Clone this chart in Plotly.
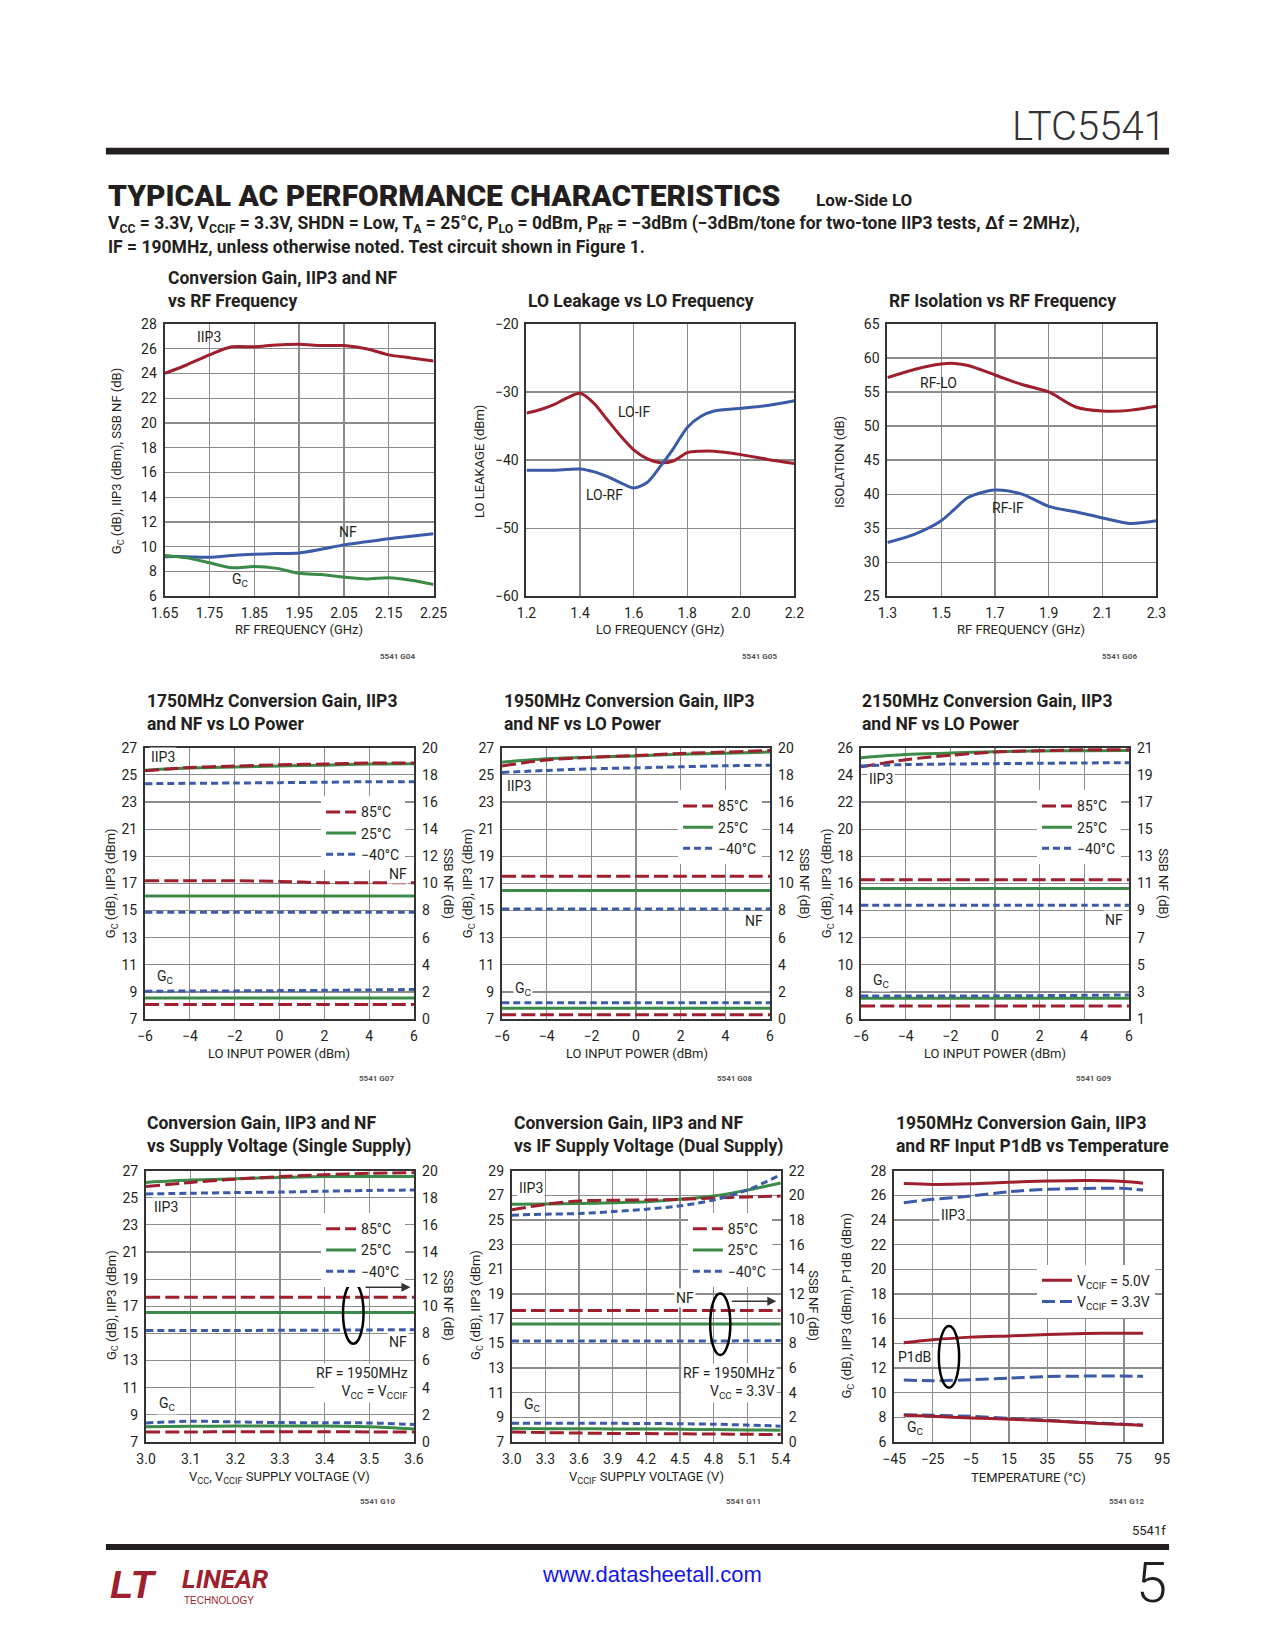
import plotly.graph_objects as go

W, H = 1275, 1650
RED = "#9e1f2d"
BLUE = "#3b5aa8"
GREEN = "#3b8a47"
GRID = "#8c8c8c"
FRAME = "#333333"
TXT = "#231f20"
NARROW = "Roboto, Liberation Sans Narrow, Arial Narrow, sans-serif"

# ---------------- data ----------------
# Plot 1: Conversion gain, IIP3, NF vs RF frequency
p1_freq = [1.65, 1.70, 1.75, 1.80, 1.85, 1.90, 1.95, 2.00, 2.05, 2.10, 2.15, 2.20, 2.25]
p1_iip3 = [24.0, 24.7, 25.5, 26.15, 26.15, 26.3, 26.35, 26.25, 26.25, 26.0, 25.5, 25.25, 25.0]
p1_nf = [9.2, 9.2, 9.15, 9.3, 9.4, 9.45, 9.5, 9.8, 10.15, 10.4, 10.65, 10.85, 11.05]
p1_gc = [9.3, 9.1, 8.7, 8.3, 8.4, 8.25, 7.85, 7.75, 7.55, 7.4, 7.5, 7.3, 6.95]
p1_xticks = [1.65, 1.75, 1.85, 1.95, 2.05, 2.15, 2.25]
p1_yticks = [6, 8, 10, 12, 14, 16, 18, 20, 22, 24, 26, 28]

# Plot 2: LO leakage vs LO frequency
p2_freq = [1.2, 1.25, 1.3, 1.35, 1.4, 1.45, 1.5, 1.55, 1.6, 1.65, 1.7, 1.75, 1.8, 1.85, 1.9, 2.0, 2.1, 2.2]
p2_lo_if = [-33.1, -32.6, -31.9, -30.9, -30.2, -31.6, -34.0, -36.4, -38.5, -39.8, -40.4, -40.1, -38.9, -38.7, -38.7, -39.2, -39.9, -40.5]
p2_lo_rf = [-41.5, -41.5, -41.5, -41.4, -41.3, -41.7, -42.4, -43.3, -44.1, -43.3, -40.9, -38.2, -35.2, -33.6, -32.8, -32.4, -32.0, -31.3]
p2_xticks = [1.2, 1.4, 1.6, 1.8, 2.0, 2.2]
p2_yticks = [-60, -50, -40, -30, -20]

# Plot 3: RF isolation vs RF frequency
p3_freq = [1.3, 1.4, 1.5, 1.55, 1.6, 1.7, 1.8, 1.9, 2.0, 2.1, 2.2, 2.3]
p3_rf_lo = [57.1, 58.3, 59.1, 59.2, 58.9, 57.5, 56.1, 55.0, 52.8, 52.2, 52.3, 52.9]
p3_rf_if = [32.9, 34.1, 36.1, 37.8, 39.5, 40.6, 40.0, 38.2, 37.4, 36.5, 35.7, 36.1]
p3_xticks = [1.3, 1.5, 1.7, 1.9, 2.1, 2.3]
p3_yticks = [25, 30, 35, 40, 45, 50, 55, 60, 65]

# Plots 4-6: vs LO power
lo_power = [-6, -4, -2, 0, 2, 4, 6]
p4_iip3_85 = [25.3, 25.55, 25.65, 25.75, 25.8, 25.88, 25.88]
p4_iip3_25 = [25.35, 25.5, 25.58, 25.65, 25.72, 25.8, 25.82]
p4_iip3_m40 = [24.35, 24.38, 24.4, 24.43, 24.46, 24.5, 24.5]
p4_nf_85 = [10.2, 10.2, 10.2, 10.15, 10.05, 10.05, 10.05]
p4_nf_25 = [9.07, 9.07, 9.07, 9.07, 9.07, 9.07, 9.07]
p4_nf_m40 = [7.88, 7.88, 7.88, 7.88, 7.88, 7.88, 7.88]
p4_gc_85 = [8.07, 8.08, 8.08, 8.08, 8.08, 8.08, 8.08]
p4_gc_25 = [8.55, 8.55, 8.55, 8.55, 8.55, 8.55, 8.55]
p4_gc_m40 = [9.05, 9.07, 9.08, 9.1, 9.12, 9.15, 9.18]

p5_iip3_85 = [25.66, 26.1, 26.3, 26.43, 26.58, 26.68, 26.8]
p5_iip3_25 = [25.94, 26.19, 26.3, 26.4, 26.52, 26.6, 26.68]
p5_iip3_m40 = [25.18, 25.33, 25.45, 25.52, 25.6, 25.67, 25.72]
p5_nf_85 = [10.53, 10.53, 10.53, 10.53, 10.53, 10.53, 10.53]
p5_nf_25 = [9.47, 9.47, 9.47, 9.47, 9.47, 9.47, 9.47]
p5_nf_m40 = [8.12, 8.12, 8.12, 8.12, 8.12, 8.12, 8.12]
p5_gc_85 = [7.32, 7.32, 7.32, 7.32, 7.32, 7.32, 7.32]
p5_gc_25 = [7.8, 7.8, 7.8, 7.8, 7.8, 7.8, 7.8]
p5_gc_m40 = [8.2, 8.2, 8.2, 8.2, 8.2, 8.2, 8.2]

p6_iip3_85 = [24.59, 25.12, 25.44, 25.68, 25.78, 25.85, 25.85]
p6_iip3_25 = [25.27, 25.51, 25.61, 25.71, 25.76, 25.78, 25.8]
p6_iip3_m40 = [24.66, 24.76, 24.8, 24.83, 24.86, 24.88, 24.9]
p6_nf_85 = [11.28, 11.28, 11.28, 11.28, 11.28, 11.28, 11.28]
p6_nf_25 = [10.62, 10.62, 10.62, 10.62, 10.62, 10.62, 10.62]
p6_nf_m40 = [9.4, 9.4, 9.4, 9.4, 9.4, 9.4, 9.4]
p6_gc_85 = [6.97, 6.97, 6.97, 6.97, 6.97, 6.97, 6.97]
p6_gc_25 = [7.53, 7.53, 7.53, 7.53, 7.53, 7.53, 7.53]
p6_gc_m40 = [7.7, 7.7, 7.7, 7.71, 7.73, 7.75, 7.78]

lo_xticks = [-6, -4, -2, 0, 2, 4, 6]
p4_yticks = [7, 9, 11, 13, 15, 17, 19, 21, 23, 25, 27]
p4_y2ticks = [0, 2, 4, 6, 8, 10, 12, 14, 16, 18, 20]
p6_yticks = [6, 8, 10, 12, 14, 16, 18, 20, 22, 24, 26]
p6_y2ticks = [1, 3, 5, 7, 9, 11, 13, 15, 17, 19, 21]

# Plot 7: vs supply voltage (single supply)
p7_vcc = [3.0, 3.1, 3.2, 3.3, 3.4, 3.5, 3.6]
p7_iip3_85 = [25.83, 26.13, 26.37, 26.56, 26.7, 26.8, 26.85]
p7_iip3_25 = [26.13, 26.3, 26.4, 26.5, 26.56, 26.56, 26.56]
p7_iip3_m40 = [25.28, 25.33, 25.38, 25.42, 25.48, 25.54, 25.57]
p7_nf_85 = [10.66, 10.66, 10.66, 10.66, 10.66, 10.66, 10.66]
p7_nf_25 = [9.54, 9.54, 9.54, 9.54, 9.54, 9.54, 9.54]
p7_nf_m40 = [8.22, 8.22, 8.22, 8.23, 8.24, 8.26, 8.28]
p7_gc_85 = [7.73, 7.74, 7.75, 7.75, 7.75, 7.74, 7.73]
p7_gc_25 = [8.12, 8.15, 8.17, 8.17, 8.17, 8.12, 7.95]
p7_gc_m40 = [8.4, 8.53, 8.48, 8.43, 8.42, 8.4, 8.29]
p7_xticks = [3.0, 3.1, 3.2, 3.3, 3.4, 3.5, 3.6]

# Plot 8: vs IF supply voltage (dual supply)
p8_vccif = [3.0, 3.3, 3.6, 3.9, 4.2, 4.5, 4.8, 5.1, 5.4]
p8_iip3_85 = [25.82, 26.27, 26.54, 26.6, 26.62, 26.67, 26.78, 26.86, 26.94]
p8_iip3_25 = [26.27, 26.3, 26.33, 26.4, 26.48, 26.67, 26.94, 27.42, 28.0]
p8_iip3_m40 = [25.39, 25.47, 25.52, 25.68, 25.87, 26.14, 26.62, 27.42, 28.68]
p8_nf_85 = [10.66, 10.66, 10.66, 10.66, 10.66, 10.66, 10.66, 10.66, 10.66]
p8_nf_25 = [9.57, 9.57, 9.57, 9.57, 9.57, 9.57, 9.57, 9.57, 9.57]
p8_nf_m40 = [8.18, 8.18, 8.18, 8.18, 8.18, 8.18, 8.19, 8.2, 8.22]
p8_gc_85 = [7.8, 7.76, 7.72, 7.69, 7.68, 7.66, 7.64, 7.62, 7.6]
p8_gc_25 = [8.09, 8.08, 8.07, 8.06, 8.05, 8.03, 8.01, 7.98, 7.95]
p8_gc_m40 = [8.52, 8.52, 8.51, 8.51, 8.5, 8.48, 8.44, 8.37, 8.28]
p8_xticks = [3.0, 3.3, 3.6, 3.9, 4.2, 4.5, 4.8, 5.1, 5.4]
p8_yticks = [7, 9, 11, 13, 15, 17, 19, 21, 23, 25, 27, 29]
p8_y2ticks = [0, 2, 4, 6, 8, 10, 12, 14, 16, 18, 20, 22]

# Plot 9: vs temperature
p9_temp = [-40, -25, -5, 15, 35, 55, 75, 85]
p9_iip3_50 = [26.95, 26.88, 26.93, 27.06, 27.15, 27.2, 27.12, 26.98]
p9_iip3_33 = [25.4, 25.67, 25.94, 26.29, 26.48, 26.56, 26.56, 26.42]
p9_p1db_50 = [14.04, 14.28, 14.5, 14.6, 14.71, 14.79, 14.82, 14.82]
p9_p1db_33 = [11.02, 10.96, 11.05, 11.18, 11.3, 11.34, 11.34, 11.32]
p9_gc_50 = [8.16, 8.08, 7.95, 7.84, 7.71, 7.55, 7.41, 7.36]
p9_gc_33 = [8.21, 8.16, 8.08, 7.92, 7.76, 7.57, 7.44, 7.36]
p9_xticks = [-45, -25, -5, 15, 35, 55, 75, 95]
p9_yticks = [6, 8, 10, 12, 14, 16, 18, 20, 22, 24, 26, 28]

temp_labels = ["85°C", "25°C", "−40°C"]

# ---------------- layout helpers ----------------
boxes = {
    1: (154, 429, 319, 594), 2: (524, 798, 319, 594), 3: (893, 1168, 319, 594),
    4: (134, 409, 747, 1021), 5: (499, 773, 747, 1021), 6: (866, 1140, 747, 1021),
    7: (135, 409, 1174, 1448), 8: (509, 784, 1174, 1448), 9: (900, 1174, 1174, 1448),
}


def fx(px):
    return px / W


def fy(py):
    return 1 - py / H


def xname(i):
    return "x" if i == 1 else "x%d" % i


def yname(i):
    return "y" if i == 1 else "y%d" % i


def fmt(v, nd):
    s = ("%." + str(nd) + "f") % v
    return s.replace("-", "−")


tickfont = dict(family=NARROW, size=14, color=TXT)
fig = go.Figure()
layout = {}


def make_axes(i, xr, xt, xd, yr, yt, yd):
    x0, x1, y0, y1 = boxes[i]
    common = dict(showgrid=True, gridcolor=GRID, gridwidth=1.2, showline=True,
                  linecolor=FRAME, linewidth=2, mirror=True, ticks="", zeroline=False,
                  tickfont=tickfont, fixedrange=True, ticklabelstandoff=3)
    layout["xaxis" if i == 1 else "xaxis%d" % i] = dict(
        domain=[fx(x0), fx(x1)], range=xr, tickvals=xt,
        ticktext=[fmt(v, xd) for v in xt], anchor=yname(i), **common)
    layout["yaxis" if i == 1 else "yaxis%d" % i] = dict(
        domain=[fy(y1), fy(y0)], range=yr, tickvals=yt,
        ticktext=[fmt(v, yd) for v in yt], anchor=xname(i), **common)


def right_axis(i, k, yr, yt):
    layout["yaxis%d" % k] = dict(
        overlaying=yname(i), side="right", anchor=xname(i), range=yr, tickvals=yt,
        ticktext=[fmt(v, 0) for v in yt], showgrid=False, showline=False, ticks="",
        zeroline=False, tickfont=tickfont, fixedrange=True, ticklabelstandoff=7)


make_axes(1, [1.65, 2.25], p1_xticks, 2, [6, 28], p1_yticks, 0)
make_axes(2, [1.2, 2.2], p2_xticks, 1, [-60, -20], p2_yticks, 0)
make_axes(3, [1.3, 2.3], p3_xticks, 1, [25, 65], p3_yticks, 0)
make_axes(4, [-6, 6], lo_xticks, 0, [7, 27], p4_yticks, 0)
make_axes(5, [-6, 6], lo_xticks, 0, [7, 27], p4_yticks, 0)
make_axes(6, [-6, 6], lo_xticks, 0, [6, 26], p6_yticks, 0)
make_axes(7, [3.0, 3.6], p7_xticks, 1, [7, 27], p4_yticks, 0)
make_axes(8, [3.0, 5.4], p8_xticks, 1, [7, 29], p8_yticks, 0)
make_axes(9, [-45, 95], p9_xticks, 0, [6, 28], p9_yticks, 0)
right_axis(4, 10, [0, 20], p4_y2ticks)
right_axis(5, 11, [0, 20], p4_y2ticks)
right_axis(6, 12, [1, 21], p6_y2ticks)
right_axis(7, 13, [0, 20], p4_y2ticks)
right_axis(8, 14, [0, 22], p8_y2ticks)

DASH85 = "14px,5px"
DASH40 = "7px,4px"
LW = 3


def line(i, x, y, color, dash="solid", yax=None):
    fig.add_trace(go.Scatter(
        x=x, y=y, mode="lines", xaxis=xname(i), yaxis=yax or yname(i),
        line=dict(color=color, width=LW, dash=dash, shape="spline", smoothing=0.8),
        showlegend=False, hoverinfo="skip"))


# plot 1
line(1, p1_freq, p1_iip3, RED)
line(1, p1_freq, p1_nf, BLUE)
line(1, p1_freq, p1_gc, GREEN)
# plot 2
line(2, p2_freq, p2_lo_if, RED)
line(2, p2_freq, p2_lo_rf, BLUE)
# plot 3
line(3, p3_freq, p3_rf_lo, RED)
line(3, p3_freq, p3_rf_if, BLUE)


def temp_plot(i, k, x, iip3, nf, gc, legend):
    styles = [(RED, DASH85), (GREEN, "solid"), (BLUE, DASH40)]
    order = [1, 0, 2]
    for j in order:
        c, d = styles[j]
        line(i, x, iip3[j], c, d)
    for j in order:
        c, d = styles[j]
        line(i, x, nf[j], c, d, yax="y%d" % k)
    for j in order:
        c, d = styles[j]
        line(i, x, gc[j], c, d)
    # legend entries (one per temperature)
    for j in range(3):
        c, d = styles[j]
        fig.add_trace(go.Scatter(
            x=[None], y=[None], mode="lines", xaxis=xname(i), yaxis=yname(i),
            line=dict(color=c, width=LW, dash=d), name=temp_labels[j],
            showlegend=True, legend=legend, hoverinfo="skip"))


temp_plot(4, 10, lo_power, [p4_iip3_85, p4_iip3_25, p4_iip3_m40], [p4_nf_85, p4_nf_25, p4_nf_m40],
          [p4_gc_85, p4_gc_25, p4_gc_m40], "legend")
temp_plot(5, 11, lo_power, [p5_iip3_85, p5_iip3_25, p5_iip3_m40], [p5_nf_85, p5_nf_25, p5_nf_m40],
          [p5_gc_85, p5_gc_25, p5_gc_m40], "legend2")
temp_plot(6, 12, lo_power, [p6_iip3_85, p6_iip3_25, p6_iip3_m40], [p6_nf_85, p6_nf_25, p6_nf_m40],
          [p6_gc_85, p6_gc_25, p6_gc_m40], "legend3")
temp_plot(7, 13, p7_vcc, [p7_iip3_85, p7_iip3_25, p7_iip3_m40], [p7_nf_85, p7_nf_25, p7_nf_m40],
          [p7_gc_85, p7_gc_25, p7_gc_m40], "legend4")
temp_plot(8, 14, p8_vccif, [p8_iip3_85, p8_iip3_25, p8_iip3_m40], [p8_nf_85, p8_nf_25, p8_nf_m40],
          [p8_gc_85, p8_gc_25, p8_gc_m40], "legend5")

# plot 9
DASH33 = "13px,5px"
line(9, p9_temp, p9_iip3_33, BLUE, DASH33)
line(9, p9_temp, p9_p1db_33, BLUE, DASH33)
line(9, p9_temp, p9_gc_33, BLUE, DASH33)
line(9, p9_temp, p9_iip3_50, RED)
line(9, p9_temp, p9_p1db_50, RED)
line(9, p9_temp, p9_gc_50, RED)
fig.add_trace(go.Scatter(x=[None], y=[None], mode="lines", xaxis="x9", yaxis="y9",
                         line=dict(color=RED, width=LW), name="V<sub>CCIF</sub> = 5.0V",
                         legend="legend6", hoverinfo="skip"))
fig.add_trace(go.Scatter(x=[None], y=[None], mode="lines", xaxis="x9", yaxis="y9",
                         line=dict(color=BLUE, width=LW, dash=DASH33), name="V<sub>CCIF</sub> = 3.3V",
                         legend="legend6", hoverinfo="skip"))

legfont = dict(family=NARROW, size=14, color=TXT)


def leg(px, py):
    return dict(x=fx(px), y=fy(py), xanchor="left", yanchor="top", bgcolor="white",
                borderwidth=0, font=legfont, tracegroupgap=0, itemclick=False, itemdoubleclick=False)


layout["legend"] = leg(314, 796)
layout["legend2"] = leg(679, 790)
layout["legend3"] = leg(1046, 790)
layout["legend4"] = leg(314, 1217)
layout["legend5"] = leg(689, 1217)
layout["legend6"] = leg(1046, 1269)

# ---------------- annotations ----------------
ann = []


def ptext(px, py, text, size=13, xanchor="left", yanchor="middle", angle=0, color=TXT, family=NARROW,
          weight=None, **kw):
    f = dict(family=family, size=size, color=color)
    if weight:
        f["weight"] = weight
    d = dict(x=fx(px), y=fy(py), xref="paper", yref="paper", text=text, showarrow=False,
             xanchor=xanchor, yanchor=yanchor, textangle=angle, font=f)
    d.update(kw)
    ann.append(d)


def dtext(i, x, y, text, xanchor="center", yanchor="middle", bg=None, align="left"):
    d = dict(x=x, y=y, xref=xname(i), yref=yname(i), text=text, showarrow=False,
             xanchor=xanchor, yanchor=yanchor, align=align,
             font=dict(family=NARROW, size=14, color=TXT), borderpad=1)
    if bg:
        d["bgcolor"] = bg
    ann.append(d)


# page header
ptext(1180, 120, "LTC5541", size=40, xanchor="right", color="#333333", weight=300)
ptext(94, 189, "TYPICAL AC PERFORMANCE CHARACTERISTICS", size=30, weight=900)
ptext(818, 194, "<b>Low-Side LO</b>", size=17)
ptext(94, 219, "<b>V<sub>CC</sub> = 3.3V, V<sub>CCIF</sub> = 3.3V, SHDN = Low, T<sub>A</sub> = 25°C, "
               "P<sub>LO</sub> = 0dBm, P<sub>RF</sub> = −3dBm (−3dBm/tone for two-tone IIP3 tests, "
               "Δf = 2MHz),</b>", size=17.5)
ptext(94, 241, "<b>IF = 190MHz, unless otherwise noted. Test circuit shown in Figure 1.</b>", size=17.5)

# chart titles
TS = 17.5
ptext(155, 284, "<b>Conversion Gain, IIP3 and NF<br>vs RF Frequency</b>", size=TS, align="left")
ptext(523, 296, "<b>LO Leakage vs LO Frequency</b>", size=TS)
ptext(893, 296, "<b>RF Isolation vs RF Frequency</b>", size=TS)
ptext(134, 711, "<b>1750MHz Conversion Gain, IIP3<br>and NF vs LO Power</b>", size=TS, align="left")
ptext(499, 711, "<b>1950MHz Conversion Gain, IIP3<br>and NF vs LO Power</b>", size=TS, align="left")
ptext(865, 711, "<b>2150MHz Conversion Gain, IIP3<br>and NF vs LO Power</b>", size=TS, align="left")
ptext(134, 1138, "<b>Conversion Gain, IIP3 and NF<br>vs Supply Voltage (Single Supply)</b>", size=TS, align="left")
ptext(509, 1138, "<b>Conversion Gain, IIP3 and NF<br>vs IF Supply Voltage (Dual Supply)</b>", size=TS, align="left")
ptext(900, 1138, "<b>1950MHz Conversion Gain, IIP3<br>and RF Input P1dB vs Temperature</b>", size=TS, align="left")

# axis titles
GC_IIP3_NF = "G<sub>C</sub> (dB), IIP3 (dBm), SSB NF (dB)"
GC_IIP3 = "G<sub>C</sub> (dB), IIP3 (dBm)"
ptext(106, 458, GC_IIP3_NF, angle=-90, xanchor="center")
ptext(291, 628, "RF FREQUENCY (GHz)", xanchor="center")
ptext(476, 458, "LO LEAKAGE (dBm)", angle=-90, xanchor="center")
ptext(661, 628, "LO FREQUENCY (GHz)", xanchor="center")
ptext(844, 458, "ISOLATION (dB)", angle=-90, xanchor="center")
ptext(1030, 628, "RF FREQUENCY (GHz)", xanchor="center")
for (yl, yr_, xt) in [(100, 444, 271), (465, 808, 637), (832, 1175, 1003)]:
    ptext(yl, 884, GC_IIP3, angle=-90, xanchor="center")
    ptext(yr_, 884, "SSB NF (dB)", angle=90, xanchor="center")
    ptext(xt, 1056, "LO INPUT POWER (dBm)", xanchor="center")
ptext(100, 1310, GC_IIP3, angle=-90, xanchor="center")
ptext(444, 1310, "SSB NF (dB)", angle=90, xanchor="center")
ptext(271, 1484, "V<sub>CC</sub>, V<sub>CCIF</sub> SUPPLY VOLTAGE (V)", xanchor="center")
ptext(473, 1310, GC_IIP3, angle=-90, xanchor="center")
ptext(818, 1310, "SSB NF (dB)", angle=90, xanchor="center")
ptext(647, 1484, "V<sub>CCIF</sub> SUPPLY VOLTAGE (V)", xanchor="center")
ptext(852, 1310, "G<sub>C</sub> (dB), IIP3 (dBm), P1dB (dBm)", angle=-90, xanchor="center")
ptext(1037, 1484, "TEMPERATURE (°C)", xanchor="center")

# figure codes
for (px, py, code) in [(412, 655, "G04"), (782, 655, "G05"), (1150, 655, "G06"),
                       (391, 1081, "G07"), (757, 1081, "G08"), (1124, 1081, "G09"),
                       (392, 1508, "G10"), (766, 1508, "G11"), (1157, 1508, "G12")]:
    ptext(px, py, "<b>5541 " + code + "</b>", size=8, xanchor="right", color="#555555")

# in-plot labels
dtext(1, 1.748, 26.96, "IIP3")
dtext(1, 2.06, 11.2, "NF")
dtext(1, 1.818, 7.3, "G<sub>C</sub>")
dtext(2, 1.60, -32.9, "LO-IF")
dtext(2, 1.492, -45.2, "LO-RF")
dtext(3, 1.489, 56.3, "RF-LO")
dtext(3, 1.75, 37.9, "RF-IF")
dtext(4, -5.2, 26.3, "IIP3", bg="white")
dtext(4, 5.3, 17.7, "NF", bg="white")
dtext(4, -5.1, 10.1, "G<sub>C</sub>", bg="white")
dtext(5, -5.25, 24.15, "IIP3", bg="white")
dtext(5, 5.3, 14.2, "NF", bg="white")
dtext(5, -5.08, 9.2, "G<sub>C</sub>", bg="white")
dtext(6, -5.12, 23.7, "IIP3", bg="white")
dtext(6, 5.34, 13.3, "NF", bg="white")
dtext(6, -5.12, 8.8, "G<sub>C</sub>", bg="white")
dtext(7, 3.044, 24.3, "IIP3", bg="white")
dtext(7, 3.565, 14.4, "NF", bg="white")
dtext(7, 3.046, 9.8, "G<sub>C</sub>", bg="white")
dtext(7, 3.591, 11.35, "RF = 1950MHz<br>V<sub>CC</sub> = V<sub>CCIF</sub>", xanchor="right", bg="white", align="right")
dtext(8, 3.175, 27.55, "IIP3", bg="white")
dtext(8, 4.545, 18.7, "NF", bg="white")
dtext(8, 3.183, 10.0, "G<sub>C</sub>", bg="white")
dtext(8, 5.365, 11.8, "RF = 1950MHz<br>V<sub>CC</sub> = 3.3V", xanchor="right", bg="white", align="right")
dtext(9, -14.3, 24.4, "IIP3", bg="white")
dtext(9, -34.3, 12.9, "P1dB", bg="white")
dtext(9, -34.3, 7.1, "G<sub>C</sub>", bg="white")

# arrows pointing to the right-hand NF axis
for (i, xa, xb, yv) in [(7, 3.488, 3.592, 18.4), (8, 4.95, 5.36, 18.4)]:
    ann.append(dict(x=xb, y=yv, ax=xa, ay=yv, xref=xname(i), yref=yname(i),
                    axref=xname(i), ayref=yname(i), text="", showarrow=True,
                    arrowhead=2, arrowsize=1.2, arrowwidth=1.5, arrowcolor="#333333"))

# footer
ptext(1180, 1537, "5541f", size=13, xanchor="right")
ptext(652, 1582, "www.datasheetall.com", size=22, xanchor="center", color="#1515e6",
      family="Liberation Sans, Arial, sans-serif")
ptext(1181, 1590, "5", size=56, xanchor="right", color="#231f20", weight=300)
ptext(96, 1592, "<b><i>LT</i></b>", size=38, color="#9e1f2d", family="Liberation Sans, Arial, sans-serif")
ptext(170, 1586, "<b><i>LINEAR</i></b>", size=26, color="#9e1f2d")
ptext(172, 1608, "TECHNOLOGY", size=10, color="#9e1f2d", family="Liberation Sans, Arial, sans-serif")

# shapes: header/footer rules, ellipses
shapes = [
    dict(type="rect", xref="paper", yref="paper", x0=fx(94), x1=fx(1181), y0=fy(148), y1=fy(141),
         fillcolor="#231f20", line=dict(width=0)),
    dict(type="rect", xref="paper", yref="paper", x0=fx(94), x1=fx(1181), y0=fy(1557), y1=fy(1551),
         fillcolor="#231f20", line=dict(width=0)),
]
for (i, xc, yc, rx, ry) in [(7, 3.464, 16.5, 0.023, 2.26), (8, 4.86, 16.55, 0.09, 2.49), (9, -16.4, 12.9, 5.3, 2.5)]:
    shapes.append(dict(type="circle", xref=xname(i), yref=yname(i), x0=xc - rx, x1=xc + rx,
                       y0=yc - ry, y1=yc + ry, line=dict(color="black", width=2.5), layer="above"))

layout.update(dict(
    width=W, height=H, autosize=False, margin=dict(l=0, r=0, t=0, b=0),
    paper_bgcolor="white", plot_bgcolor="white", annotations=ann, shapes=shapes,
    font=dict(family=NARROW, color=TXT),
))
fig.update_layout(**layout)
fig.write_html("out.html", config={"displayModeBar": False, "staticPlot": True},
               post_script="document.body.style.margin='0';")
